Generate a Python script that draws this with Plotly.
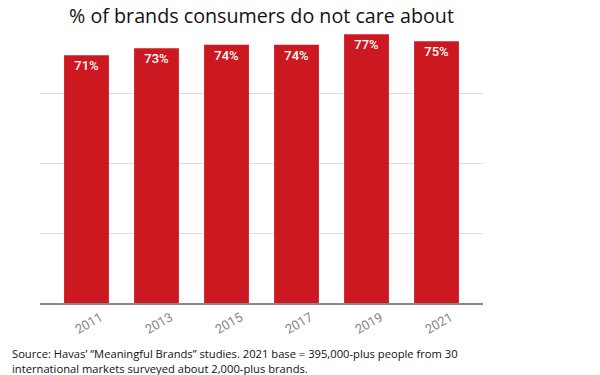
import plotly.graph_objects as go

years = ["2011", "2013", "2015", "2017", "2019", "2021"]
values = [71, 73, 74, 74, 77, 75]
labels = ["71%", "73%", "74%", "74%", "77%", "75%"]

title_text = "% of brands consumers do not care about"
source_text = ("Source: Havas\u2019 \u201cMeaningful Brands\u201d studies. 2021 base = 395,000-plus people from 30<br>"
               "international markets surveyed about 2,000-plus brands.")

L, R, T, B = 40, 483, 33, 303
W, H = 600, 375

fig = go.Figure(go.Bar(
    x=years, y=values, text=labels,
    textposition="inside", insidetextanchor="end",
    textfont=dict(family="Roboto", size=13, color="white", weight=500),
    marker=dict(color="#cc1820", line=dict(width=0)),
    width=0.64, cliponaxis=False, hoverinfo="skip",
))

fig.update_layout(
    width=W, height=H,
    margin=dict(l=L, r=W - R, t=T, b=H - B),
    paper_bgcolor="white", plot_bgcolor="white",
    showlegend=False,
    title=dict(text=title_text, x=0.5, xref="paper", xanchor="center",
               y=1 - 16 / H, yref="container", yanchor="middle",
               font=dict(family="Open Sans", size=19.7, color="#111")),
    xaxis=dict(range=[-0.664, 5.664], tickangle=-30,
               tickfont=dict(family="Roboto", size=13, color="#888"),
               ticklabelshift=14, ticklabelstandoff=0,
               showgrid=False, showline=True, linecolor="#888", linewidth=2,
               ticks=""),
    yaxis=dict(range=[0, (B - T) / 3.49], tickvals=[0, 20, 40, 60],
               showticklabels=False, showgrid=True, gridcolor="#dedede",
               gridwidth=1, zeroline=False, showline=False),
    annotations=[dict(text=source_text, xref="paper", yref="paper",
                      x=(10 - L) / (R - L), y=(B - 344) / (B - T),
                      xanchor="left", yanchor="top", align="left",
                      showarrow=False,
                      font=dict(family="Open Sans", size=11.2, color="#111"))],
)

fig.write_html("out.html", config={"displayModeBar": False},
               post_script="document.body.style.margin='0';document.body.style.overflow='hidden';")
